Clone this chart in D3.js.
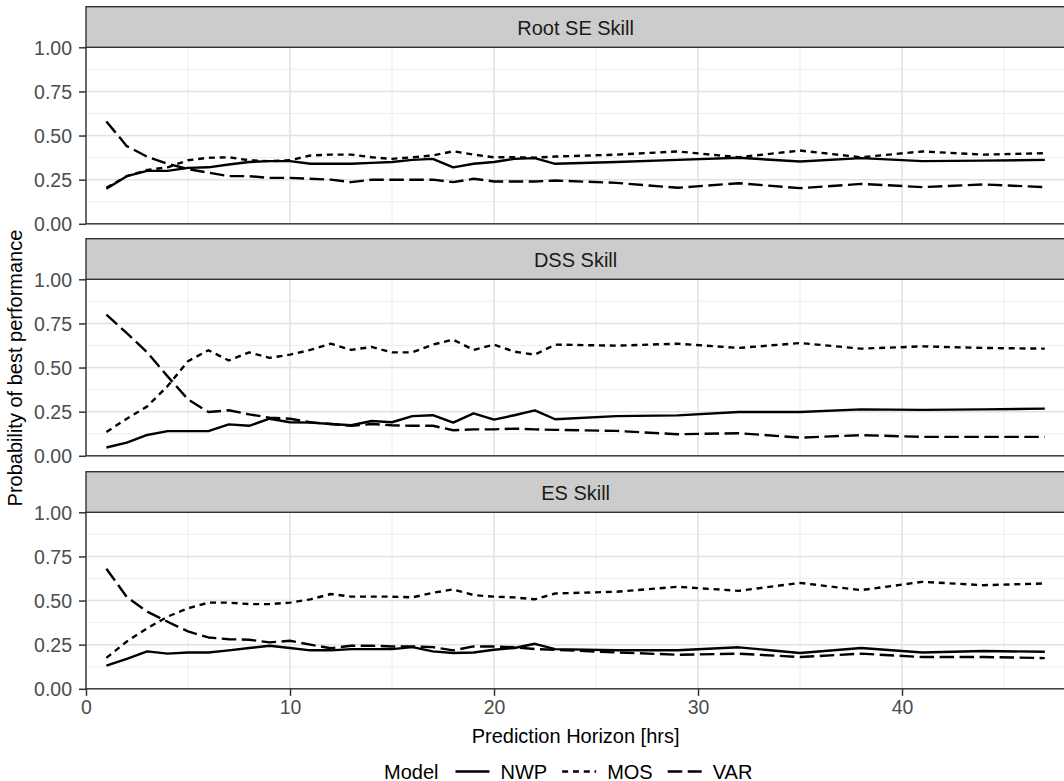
<!DOCTYPE html>
<html>
<head>
<meta charset="utf-8">
<script src="https://cdn.jsdelivr.net/npm/d3@7"></script>
<style>
  html, body { margin: 0; padding: 0; background: #ffffff; }
  svg { display: block; font-family: "Liberation Sans", Arial, Helvetica, sans-serif; }
</style>
</head>
<body>
<svg id="chart" width="1064" height="781"></svg>
<script>
// ---------------- data ----------------
const hours = [1,2,3,4,5,6,7,8,9,10,11,12,13,14,15,16,17,18,19,20,21,22,23,26,29,32,35,38,41,44,47];

const panelNames = ["Root SE Skill", "DSS Skill", "ES Skill"];
const modelNames = ["NWP", "MOS", "VAR"];

const rootSE_NWP = [0.198,0.27,0.30,0.30,0.317,0.32,0.336,0.35,0.355,0.355,0.34,0.34,0.34,0.345,0.35,0.362,0.368,0.32,0.34,0.35,0.368,0.372,0.34,0.35,0.362,0.374,0.353,0.372,0.355,0.358,0.362];
const rootSE_MOS = [0.204,0.27,0.305,0.32,0.36,0.374,0.377,0.36,0.355,0.36,0.387,0.392,0.392,0.377,0.368,0.377,0.387,0.411,0.392,0.377,0.377,0.375,0.381,0.392,0.41,0.377,0.415,0.377,0.41,0.392,0.40];
const rootSE_VAR = [0.58,0.44,0.38,0.34,0.31,0.29,0.27,0.27,0.26,0.26,0.255,0.25,0.236,0.25,0.25,0.25,0.25,0.236,0.255,0.24,0.24,0.24,0.245,0.232,0.204,0.23,0.202,0.226,0.208,0.223,0.208];

const dss_NWP = [0.047,0.075,0.118,0.14,0.14,0.14,0.178,0.17,0.21,0.19,0.188,0.18,0.173,0.197,0.19,0.225,0.23,0.188,0.24,0.205,0.23,0.257,0.207,0.225,0.229,0.248,0.248,0.263,0.26,0.263,0.267];
const dss_MOS = [0.135,0.21,0.28,0.395,0.536,0.598,0.54,0.586,0.555,0.573,0.60,0.635,0.60,0.617,0.586,0.586,0.63,0.658,0.60,0.63,0.59,0.573,0.63,0.624,0.635,0.611,0.639,0.607,0.62,0.611,0.607];
const dss_VAR = [0.80,0.695,0.586,0.45,0.32,0.248,0.258,0.235,0.216,0.21,0.19,0.18,0.17,0.18,0.173,0.17,0.17,0.145,0.15,0.15,0.154,0.15,0.147,0.141,0.122,0.128,0.103,0.117,0.107,0.107,0.107];

const es_NWP = [0.131,0.169,0.212,0.199,0.206,0.206,0.218,0.231,0.244,0.231,0.218,0.218,0.225,0.225,0.225,0.236,0.212,0.203,0.206,0.221,0.231,0.255,0.225,0.218,0.218,0.235,0.203,0.231,0.206,0.214,0.21];
const es_MOS = [0.175,0.268,0.343,0.409,0.456,0.488,0.488,0.48,0.48,0.488,0.507,0.537,0.522,0.522,0.522,0.518,0.544,0.563,0.531,0.522,0.518,0.507,0.54,0.55,0.578,0.555,0.60,0.559,0.606,0.587,0.597];
const es_VAR = [0.68,0.52,0.437,0.38,0.325,0.291,0.281,0.278,0.263,0.272,0.25,0.23,0.244,0.244,0.24,0.24,0.236,0.218,0.24,0.24,0.235,0.225,0.221,0.206,0.193,0.199,0.18,0.199,0.18,0.18,0.174];

const xTicks = [0, 10, 20, 30, 40];
const xMinor = [5, 15, 25, 35, 45];
const yTicks = [0, 0.25, 0.5, 0.75, 1];
const yMinor = [0.125, 0.375, 0.625, 0.875];

const xTitle = "Prediction Horizon [hrs]";
const yTitle = "Probability of best performance";
const legendTitle = "Model";

// ------------- assembled -------------
const panelSeries = [
  [rootSE_NWP, rootSE_MOS, rootSE_VAR],
  [dss_NWP, dss_MOS, dss_VAR],
  [es_NWP, es_MOS, es_VAR]
];

// ------------- layout / style -------------
const W = 1064, H = 781;
const plotLeft = 86, unitPx = 20.4;
const panelTops = [47.3, 279.3, 512.3];
const panelH = 176.5;
const stripH = 40.6;
const lineW = 2.4;
const dashes = { NWP: null, MOS: "6,4.8", VAR: "14.5,5.5" };

const svg = d3.select("#chart");

const x = d3.scaleLinear().domain([0, 48]).range([plotLeft, plotLeft + 48 * unitPx]);
const panelRight = x(48);

panelNames.forEach((name, pi) => {
  const top = panelTops[pi];
  const y = d3.scaleLinear().domain([0, 1]).range([top + panelH, top]);
  const g = svg.append("g");

  // background
  g.append("rect").attr("x", plotLeft).attr("y", top).attr("width", panelRight - plotLeft).attr("height", panelH).attr("fill", "#ffffff");

  // minor grid
  g.selectAll(".ymin").data(yMinor).enter().append("line")
    .attr("x1", plotLeft).attr("x2", panelRight)
    .attr("y1", d => y(d)).attr("y2", d => y(d))
    .attr("stroke", "#ececec").attr("stroke-width", 0.9);
  g.selectAll(".xmin").data(xMinor).enter().append("line")
    .attr("y1", top).attr("y2", top + panelH)
    .attr("x1", d => x(d)).attr("x2", d => x(d))
    .attr("stroke", "#ececec").attr("stroke-width", 0.9);
  // major grid
  g.selectAll(".ymaj").data(yTicks).enter().append("line")
    .attr("x1", plotLeft).attr("x2", panelRight)
    .attr("y1", d => y(d)).attr("y2", d => y(d))
    .attr("stroke", "#e2e2e2").attr("stroke-width", 1.5);
  g.selectAll(".xmaj").data(xTicks).enter().append("line")
    .attr("y1", top).attr("y2", top + panelH)
    .attr("x1", d => x(d)).attr("x2", d => x(d))
    .attr("stroke", "#e2e2e2").attr("stroke-width", 1.5);

  // lines
  const line = d3.line().x((d, i) => x(hours[i])).y(d => y(d));
  modelNames.forEach((m, mi) => {
    g.append("path")
      .datum(panelSeries[pi][mi])
      .attr("d", line)
      .attr("fill", "none")
      .attr("stroke", "#000000")
      .attr("stroke-width", lineW)
      .attr("stroke-linejoin", "round")
      .attr("stroke-linecap", "butt")
      .attr("stroke-dasharray", dashes[m]);
  });

  // panel border
  g.append("rect").attr("x", plotLeft).attr("y", top).attr("width", panelRight - plotLeft).attr("height", panelH)
    .attr("fill", "none").attr("stroke", "#333333").attr("stroke-width", 1.4);

  // strip
  g.append("rect").attr("x", plotLeft).attr("y", top - stripH).attr("width", panelRight - plotLeft).attr("height", stripH)
    .attr("fill", "#cccccc").attr("stroke", "#333333").attr("stroke-width", 1.4);
  g.append("text")
    .attr("x", (plotLeft + panelRight) / 2)
    .attr("y", top - stripH / 2 + 1)
    .attr("text-anchor", "middle")
    .attr("dominant-baseline", "central")
    .attr("font-size", 20)
    .attr("fill", "#1a1a1a")
    .text(name);

  // y axis
  const yAxis = d3.axisLeft(y).tickValues(yTicks).tickFormat(d3.format(".2f")).tickSizeInner(7).tickSizeOuter(0).tickPadding(7);
  const ya = svg.append("g").attr("transform", `translate(${plotLeft},0)`).call(yAxis);
  ya.select(".domain").remove();
  ya.selectAll(".tick line").attr("stroke", "#333333").attr("stroke-width", 1.5);
  ya.selectAll(".tick text").attr("font-size", 19.5).attr("fill", "#4d4d4d")
    .attr("font-family", "'Liberation Sans', Arial, Helvetica, sans-serif").attr("dy", "0.36em");

  // x axis on bottom panel only
  if (pi === panelNames.length - 1) {
    const xAxis = d3.axisBottom(x).tickValues(xTicks).tickFormat(d3.format("d")).tickSizeInner(7).tickSizeOuter(0).tickPadding(4);
    const xa = svg.append("g").attr("transform", `translate(0,${top + panelH})`).call(xAxis);
    xa.select(".domain").remove();
    xa.selectAll(".tick line").attr("stroke", "#333333").attr("stroke-width", 1.5);
    xa.selectAll(".tick text").attr("font-size", 19.5).attr("fill", "#4d4d4d")
      .attr("font-family", "'Liberation Sans', Arial, Helvetica, sans-serif");
  }
});

// axis titles
svg.append("text")
  .attr("x", (plotLeft + panelRight) / 2)
  .attr("y", 743)
  .attr("text-anchor", "middle")
  .attr("font-size", 20)
  .attr("fill", "#000000")
  .text(xTitle);

const yMid = (panelTops[0] + panelTops[2] + panelH) / 2;
svg.append("text")
  .attr("transform", `translate(22,${yMid}) rotate(-90)`)
  .attr("text-anchor", "middle")
  .attr("font-size", 20)
  .attr("fill", "#000000")
  .text(yTitle);

// legend
const legY = 771.5;
const leg = svg.append("g");
const lt = leg.append("text").attr("x", 384).attr("y", legY).attr("dominant-baseline", "central")
  .attr("font-size", 20).attr("fill", "#000000").text(legendTitle);
let cx = 384 + lt.node().getComputedTextLength() + 17;
modelNames.forEach(m => {
  leg.append("line").attr("x1", cx).attr("x2", cx + 34).attr("y1", legY).attr("y2", legY)
    .attr("stroke", "#000000").attr("stroke-width", lineW).attr("stroke-dasharray", dashes[m]);
  cx += 34 + 11;
  const t = leg.append("text").attr("x", cx).attr("y", legY).attr("dominant-baseline", "central")
    .attr("font-size", 20).attr("fill", "#000000").text(m);
  cx += t.node().getComputedTextLength() + 15;
});
</script>
</body>
</html>
